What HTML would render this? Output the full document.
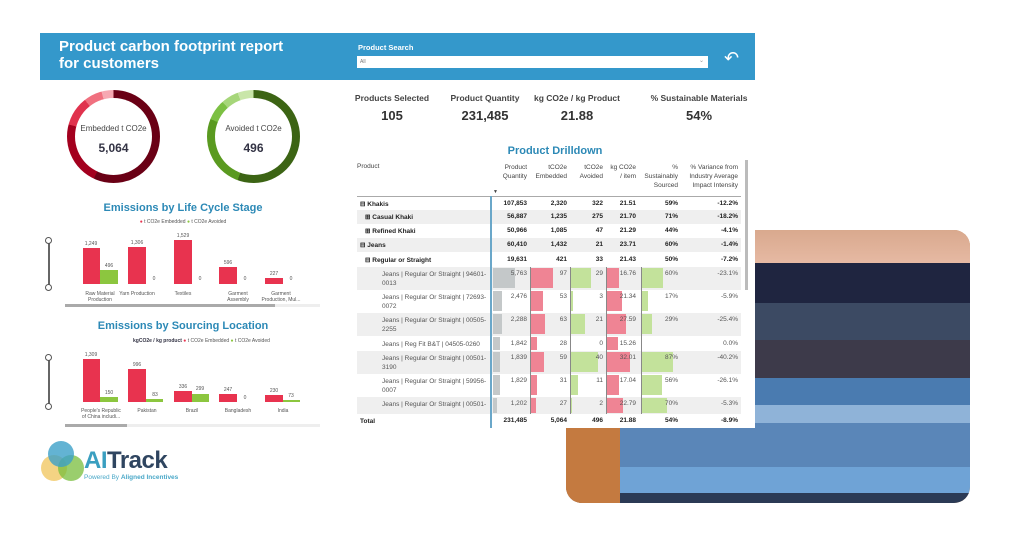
<!DOCTYPE html>
<html><head><meta charset="utf-8"><style>
*{margin:0;padding:0;box-sizing:border-box}
body{width:1024px;height:536px;background:#fff;position:relative;overflow:hidden;font-family:"Liberation Sans",sans-serif;color:#333}
.a{position:absolute}
.photo{left:566px;top:230px;width:404px;height:273px;border-radius:16px;overflow:hidden;background:#c98a55}
.photo div{position:absolute;left:0;width:100%}
.dash{left:40px;top:33px;width:715px;height:395px;background:#fff}
.hdr{left:40px;top:33px;width:715px;height:47px;background:#3498cb}
.t{white-space:nowrap}
.kl{font-size:8.5px;color:#444;font-weight:bold;text-align:center;width:100px}
.kv{font-size:13px;color:#333;font-weight:bold;text-align:center;width:100px}
.ttl{color:#2c89b6;font-size:11px;font-weight:bold;text-align:center}
.small{font-size:5px;color:#555;text-align:center}
.bar{position:absolute}
.r{background:#e8334f}.g{background:#8cc63f}
.row{position:absolute;left:357px;width:384px;font-size:6.5px}
.c{position:absolute;text-align:right}
.b{font-weight:bold;color:#222}
.sh{background:#efefef}
</style></head><body>
<div class="a photo">
<div style="top:0;height:33px;background:linear-gradient(#d9a98e,#e6b9a3)"></div>
<div style="top:33px;height:40px;background:#1f2540"></div>
<div style="top:73px;height:37px;background:#3c4a63"></div>
<div style="top:110px;height:38px;background:#3d3a4a"></div>
<div style="top:148px;height:27px;background:#4a7bb0"></div>
<div style="top:175px;height:18px;background:#8fb3d8"></div>
<div style="top:193px;height:44px;background:#5a86b8"></div>
<div style="top:237px;height:26px;background:#6fa3d6"></div>
<div style="top:263px;height:10px;background:#2b3a55"></div>
<div style="top:193px;height:80px;width:54px;background:#c47a40"></div>
<div style="top:237px;height:36px;width:44px;background:#c47a40"></div>
</div>
<div class="a dash"></div>
<div class="a hdr"></div>
<div class="a t" style="left:59px;top:38px;color:#fff;font-size:15px;font-weight:bold;line-height:17px">Product carbon footprint report<br>for customers</div>
<div class="a t" style="left:358px;top:43px;color:#fff;font-size:7.5px;font-weight:bold">Product Search</div>
<div class="a" style="left:357px;top:56px;width:351px;height:12px;background:#fff"><span style="font-size:5px;color:#777;position:absolute;left:3px;top:3px">All</span><span style="font-size:6px;color:#999;position:absolute;right:4px;top:1px">⌄</span></div>
<div class="a" style="left:724px;top:48px;color:#fff;font-size:18px">↶</div>
<!-- KPIs -->
<div class="a kl t" style="left:342px;top:93px">Products Selected</div>
<div class="a kv" style="left:342px;top:108px">105</div>
<div class="a kl t" style="left:435px;top:93px">Product Quantity</div>
<div class="a kv" style="left:435px;top:108px">231,485</div>
<div class="a kl t" style="left:527px;top:93px">kg CO2e / kg Product</div>
<div class="a kv" style="left:527px;top:108px">21.88</div>
<div class="a kl t" style="left:644px;top:93px;width:110px">% Sustainable Materials</div>
<div class="a kv" style="left:644px;top:108px;width:110px">54%</div>
<!-- donuts -->
<div class="a" style="left:67px;top:90px;width:93px;height:93px;border-radius:50%;background:conic-gradient(#6a0015 0 205deg,#a3001e 205deg 285deg,#e0324d 285deg 322deg,#f0707f 322deg 345deg,#f6a8b2 345deg 360deg)"></div>
<div class="a" style="left:75px;top:98px;width:77px;height:77px;border-radius:50%;background:#fff"></div>
<div class="a t" style="left:67px;top:124px;width:93px;text-align:center;font-size:8px;color:#444">Embedded t CO2e</div>
<div class="a" style="left:67px;top:141px;width:93px;text-align:center;font-size:12px;font-weight:bold;color:#334">5,064</div>
<div class="a" style="left:207px;top:90px;width:93px;height:93px;border-radius:50%;background:conic-gradient(#3c6414 0 200deg,#5a9a20 200deg 292deg,#7cc043 292deg 318deg,#a6d67a 318deg 340deg,#c9e6a9 340deg 360deg)"></div>
<div class="a" style="left:215px;top:98px;width:77px;height:77px;border-radius:50%;background:#fff"></div>
<div class="a t" style="left:207px;top:124px;width:93px;text-align:center;font-size:8px;color:#444">Avoided t CO2e</div>
<div class="a" style="left:207px;top:141px;width:93px;text-align:center;font-size:12px;font-weight:bold;color:#334">496</div>
<!-- chart 1 -->
<div class="a ttl t" style="left:83px;top:202px;width:200px">Emissions by Life Cycle Stage</div>
<div class="a small t" style="left:133px;top:219px;width:100px"><span style="color:#e8334f">●</span> t CO2e Embedded <span style="color:#8cc63f">●</span> t CO2e Avoided</div>
<div class="a" style="left:48px;top:240px;width:2px;height:48px;background:#666"></div>
<div class="a" style="left:45px;top:237px;width:7px;height:7px;border:1px solid #555;border-radius:50%;background:#fff"></div>
<div class="a" style="left:45px;top:284px;width:7px;height:7px;border:1px solid #555;border-radius:50%;background:#fff"></div>
<div class="bar r" style="left:83px;top:248px;width:17px;height:36px"></div>
<div class="bar g" style="left:100px;top:270px;width:18px;height:14px"></div>
<div class="bar r" style="left:128px;top:247px;width:18px;height:37px"></div>
<div class="bar r" style="left:174px;top:240px;width:18px;height:44px"></div>
<div class="bar r" style="left:219px;top:267px;width:18px;height:17px"></div>
<div class="bar r" style="left:265px;top:278px;width:18px;height:6px"></div>
<div class="a small" style="left:81px;top:241px;width:20px">1,249</div>
<div class="a small" style="left:99px;top:263px;width:20px">496</div>
<div class="a small" style="left:127px;top:240px;width:20px">1,306</div>
<div class="a small" style="left:173px;top:233px;width:20px">1,529</div>
<div class="a small" style="left:218px;top:260px;width:20px">596</div>
<div class="a small" style="left:264px;top:271px;width:20px">227</div>
<div class="a small" style="left:144px;top:276px;width:20px">0</div>
<div class="a small" style="left:190px;top:276px;width:20px">0</div>
<div class="a small" style="left:235px;top:276px;width:20px">0</div>
<div class="a small" style="left:281px;top:276px;width:20px">0</div>
<div class="a small" style="left:80px;top:291px;width:40px">Raw Material<br>Production</div>
<div class="a small" style="left:117px;top:291px;width:40px">Yarn Production</div>
<div class="a small" style="left:163px;top:291px;width:40px">Textiles</div>
<div class="a small" style="left:218px;top:291px;width:40px">Garment<br>Assembly</div>
<div class="a small t" style="left:261px;top:291px;width:40px">Garment<br>Production, Mul...</div>
<div class="a" style="left:65px;top:304px;width:255px;height:3px;background:#eee"></div>
<div class="a" style="left:65px;top:304px;width:210px;height:3px;background:#aaa"></div>
<!-- chart 2 -->
<div class="a ttl t" style="left:83px;top:320px;width:200px">Emissions by Sourcing Location</div>
<div class="a small t" style="left:133px;top:338px;width:100px"><b style="color:#334">kgCO2e / kg product</b> <span style="color:#e8334f">●</span> t CO2e Embedded <span style="color:#8cc63f">●</span> t CO2e Avoided</div>
<div class="a" style="left:48px;top:358px;width:2px;height:48px;background:#666"></div>
<div class="a" style="left:45px;top:354px;width:7px;height:7px;border:1px solid #555;border-radius:50%;background:#fff"></div>
<div class="a" style="left:45px;top:403px;width:7px;height:7px;border:1px solid #555;border-radius:50%;background:#fff"></div>
<div class="bar r" style="left:83px;top:359px;width:17px;height:43px"></div>
<div class="bar g" style="left:100px;top:397px;width:18px;height:5px"></div>
<div class="bar r" style="left:128px;top:369px;width:18px;height:33px"></div>
<div class="bar g" style="left:146px;top:399px;width:17px;height:3px"></div>
<div class="bar r" style="left:174px;top:391px;width:18px;height:11px"></div>
<div class="bar g" style="left:192px;top:394px;width:17px;height:8px"></div>
<div class="bar r" style="left:219px;top:394px;width:18px;height:8px"></div>
<div class="bar r" style="left:265px;top:395px;width:18px;height:7px"></div>
<div class="bar g" style="left:283px;top:400px;width:17px;height:2px"></div>
<div class="a small" style="left:81px;top:352px;width:20px">1,309</div>
<div class="a small" style="left:99px;top:390px;width:20px">150</div>
<div class="a small" style="left:127px;top:362px;width:20px">996</div>
<div class="a small" style="left:145px;top:392px;width:20px">83</div>
<div class="a small" style="left:173px;top:384px;width:20px">336</div>
<div class="a small" style="left:190px;top:386px;width:20px">299</div>
<div class="a small" style="left:218px;top:387px;width:20px">247</div>
<div class="a small" style="left:235px;top:395px;width:20px">0</div>
<div class="a small" style="left:264px;top:388px;width:20px">230</div>
<div class="a small" style="left:281px;top:393px;width:20px">73</div>
<div class="a small" style="left:76px;top:408px;width:50px">People's Republic<br>of China includi...</div>
<div class="a small" style="left:127px;top:408px;width:40px">Pakistan</div>
<div class="a small" style="left:172px;top:408px;width:40px">Brazil</div>
<div class="a small" style="left:218px;top:408px;width:40px">Bangladesh</div>
<div class="a small" style="left:263px;top:408px;width:40px">India</div>
<div class="a" style="left:65px;top:424px;width:255px;height:3px;background:#eee"></div>
<div class="a" style="left:65px;top:424px;width:62px;height:3px;background:#aaa"></div>
<!-- logo -->
<div class="a" style="left:41px;top:455px;width:26px;height:26px;border-radius:50%;background:rgba(240,196,90,.75)"></div>
<div class="a" style="left:58px;top:455px;width:26px;height:26px;border-radius:50%;background:rgba(120,190,60,.75)"></div>
<div class="a" style="left:48px;top:441px;width:26px;height:26px;border-radius:50%;background:rgba(60,160,200,.8)"></div>
<div class="a t" style="left:84px;top:447px;font-size:24px;font-weight:bold;letter-spacing:-0.5px"><span style="color:#3a9fc0">AI</span><span style="color:#2f4560">Track</span></div>
<div class="a t" style="left:84px;top:474px;font-size:6.5px;color:#4aa8c8">Powered By <b>Aligned Incentives</b></div>
<!-- table -->
<div class="a ttl t" style="left:455px;top:145px;width:200px">Product Drilldown</div>
<div class="a" style="left:357px;top:163px;font-size:6.5px;color:#444">Product</div>
<div class="a" style="left:490px;top:163px;width:250px;height:30px;font-size:6.5px;color:#444;line-height:9px">
<div class="c" style="left:0;width:37px">Product<br>Quantity</div>
<div class="c" style="left:37px;width:40px">tCO2e<br>Embedded</div>
<div class="c" style="left:77px;width:36px">tCO2e<br>Avoided</div>
<div class="c" style="left:113px;width:33px">kg CO2e<br>/ item</div>
<div class="c" style="left:146px;width:42px">%<br>Sustainably<br>Sourced</div>
<div class="c" style="left:188px;width:60px">% Variance from<br>Industry Average<br>Impact Intensity</div>
</div>
<div class="a" style="left:493px;top:189px;font-size:5px;color:#444">▼</div>
<div class="a" style="left:357px;top:196px;width:384px;height:1px;background:#aaa"></div>
<div class="a" style="left:745px;top:160px;width:3px;height:130px;background:#bbb"></div>
<div id="tb"></div>
<div class="a" style="left:490px;top:196px;width:1.5px;height:232px;background:#6aa7c9"></div>
<script>
const rows=[
[197,14,0,"⊟ Khakis","107,853","2,320","322","21.51","59%","-12.2%",1,0],
[210,14,1,"⊞ Casual Khaki","56,887","1,235","275","21.70","71%","-18.2%",1,5],
[224,14,0,"⊞ Refined Khaki","50,966","1,085","47","21.29","44%","-4.1%",1,5],
[238,14,1,"⊟ Jeans","60,410","1,432","21","23.71","60%","-1.4%",1,0],
[252,15,0,"⊟ Regular or Straight","19,631","421","33","21.43","50%","-7.2%",1,5],
[267,23,1,"Jeans | Regular Or Straight | 94601-<br>0013","5,763","97","29","16.76","60%","-23.1%",0,22,[22,22,20,12,21]],
[290,23,0,"Jeans | Regular Or Straight | 72693-<br>0072","2,476","53","3","21.34","17%","-5.9%",0,22,[9,12,2,15,6]],
[313,23,1,"Jeans | Regular Or Straight | 00505-<br>2255","2,288","63","21","27.59","29%","-25.4%",0,22,[9,14,14,19,10]],
[336,15,0,"Jeans | Reg Fit B&amp;T | 04505-0260","1,842","28","0","15.26","","0.0%",0,22,[7,6,0,11,0]],
[351,23,1,"Jeans | Regular Or Straight | 00501-<br>3190","1,839","59","40","32.01","87%","-40.2%",0,22,[7,13,27,23,31]],
[374,23,0,"Jeans | Regular Or Straight | 59956-<br>0007","1,829","31","11","17.04","56%","-26.1%",0,22,[7,6,7,12,20]],
[397,17,1,"Jeans | Regular Or Straight | 00501-","1,202","27","2","22.79","70%","-5.3%",0,22,[4,5,1,16,25]],
[414,14,0,"Total","231,485","5,064","496","21.88","54%","-8.9%",1,0]];
const rights=[37,77,113,146,188,248], starts=[3,41,81,117,152];
const cols=["#c4c8c9","#ef8494","#c3e29b","#ef8494","#c3e29b"];
let h="";
for(const r of rows){
 const [top,ht,sh,name,...rest]=r;
 const vals=rest.slice(0,6), bold=rest[6], ind=rest[7], bars=rest[8];
 h+=`<div class="row ${sh?'sh':''}" style="top:${top}px;height:${ht}px">`;
 if(bars){for(let i=0;i<5;i++){ if(i>0) h+=`<div style="position:absolute;left:${133+starts[i]-1}px;top:0;width:1px;height:${ht}px;background:#888"></div>`; if(bars[i]) h+=`<div style="position:absolute;left:${133+starts[i]}px;top:1px;width:${bars[i]}px;height:${Math.min(ht-2,20)}px;background:${cols[i]}"></div>`;}}
 h+=`<div style="position:absolute;left:${3+ind}px;top:${ht>16?3:(ht-8)/2}px;line-height:9px;${bold?'font-weight:bold;color:#222':'color:#555'}">${name}</div>`;
 let L=133;
 for(let i=0;i<6;i++){h+=`<div class="c ${bold?'b':''}" style="left:${L}px;width:${rights[i]-(i?rights[i-1]:0)}px;top:${ht>16?3:(ht-8)/2}px;${bold?'':'color:#555'}">${vals[i]}</div>`;L=133+rights[i];}
 h+=`</div>`;
}
document.getElementById('tb').innerHTML=h;
</script>
</body></html>
